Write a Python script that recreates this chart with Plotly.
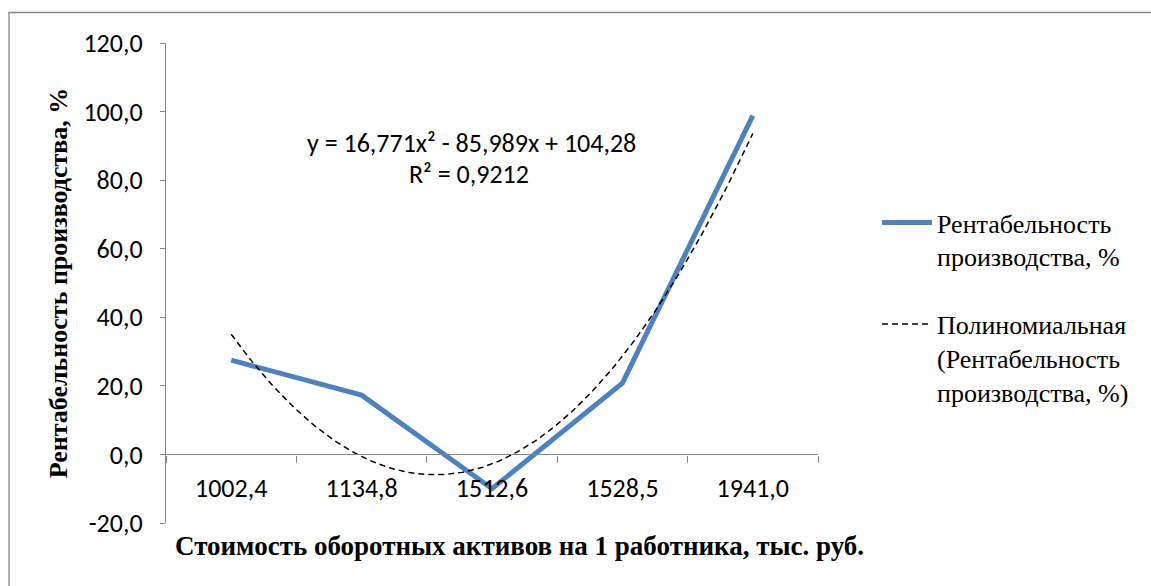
import numpy as np
import plotly.graph_objects as go

# ---- data ----
categories = ["1002,4", "1134,8", "1512,6", "1528,5", "1941,0"]
profitability = [27.5, 17.3, -10.0, 20.8, 98.8]
trend_coeffs = [16.771, -85.989, 104.28]   # from the chart's trendline equation
y_ticks = [-20, 0, 20, 40, 60, 80, 100, 120]
y_tick_text = ["-20,0", "0,0", "20,0", "40,0", "60,0", "80,0", "100,0", "120,0"]

x_pos = list(range(1, len(categories) + 1))
x_fine = np.linspace(1, len(categories), 200)
y_fine = np.polyval(trend_coeffs, x_fine)

SANS = "Carlito, Lato, 'Open Sans', sans-serif"
SERIF = "'Liberation Serif', 'Times New Roman', serif"
GRAY = "#868686"

L, R, T, B = 166, 333, 43, 63
W, H = 1151, 586
PW, PH = W - L - R, H - T - B


def px_x(p):
    return (p - L) / PW


def px_y(p):
    return (H - B - p) / PH


fig = go.Figure()
fig.add_trace(go.Scatter(
    x=x_pos, y=profitability, mode="lines",
    line=dict(color="#4F81BD", width=5),
    name="Рентабельность<br>производства, %",
    legendgroup="a",
))
fig.add_trace(go.Scatter(
    x=x_fine, y=y_fine, mode="lines",
    line=dict(color="black", width=1.5, dash="6px,4px"),
    name="Полиномиальная<br>(Рентабельность<br>производства, %)",
    legendgroup="b",
))

fig.update_layout(
    width=W, height=H,
    margin=dict(l=L, r=R, t=T, b=B),
    paper_bgcolor="white", plot_bgcolor="white",
    showlegend=True,
    legend=dict(
        x=px_x(877), xanchor="left", y=px_y(199), yanchor="top",
        font=dict(family=SERIF, size=26, color="black"),
        valign="top", tracegroupgap=31, itemwidth=50,
        bgcolor="rgba(0,0,0,0)",
    ),
    xaxis=dict(
        range=[0.5, len(categories) + 0.5],
        tickmode="array", tickvals=x_pos, ticktext=categories,
        ticks="", showline=True, linecolor=GRAY, linewidth=1.3,
        showgrid=False, zeroline=False,
        anchor="free", position=20 / 140,
        tickfont=dict(family=SANS, size=26, color="black"),
        ticklabelstandoff=10,
        minor=dict(tickvals=[i + 0.5 for i in range(len(categories) + 1)],
                   ticks="outside", ticklen=7, tickcolor=GRAY, tickwidth=1.3,
                   showgrid=False),
    ),
    yaxis=dict(
        range=[-20, 120], domain=[0, 1],
        tickmode="array", tickvals=y_ticks, ticktext=y_tick_text,
        ticks="outside", ticklen=5, tickcolor=GRAY, tickwidth=1.3,
        showline=True, linecolor=GRAY, linewidth=1.3,
        showgrid=False, zeroline=False,
        tickfont=dict(family=SANS, size=26, color="black"),
        ticklabelstandoff=12,
        title=dict(text="<b>Рентабельность производства, %</b>",
                   font=dict(family=SERIF, size=26, color="black"),
                   standoff=8),
    ),
    annotations=[
        dict(text="y = 16,771x² - 85,989x + 104,28", xref="paper", yref="paper",
             x=px_x(471), y=px_y(143), xanchor="center", yanchor="middle",
             showarrow=False, font=dict(family=SANS, size=26, color="black")),
        dict(text="R² = 0,9212", xref="paper", yref="paper",
             x=px_x(469), y=px_y(174), xanchor="center", yanchor="middle",
             showarrow=False, font=dict(family=SANS, size=26, color="black")),
        dict(text="<b>Стоимость оборотных активов на 1 работника, тыс. руб.</b>",
             xref="paper", yref="paper",
             x=px_x(519), y=px_y(546), xanchor="center", yanchor="middle",
             showarrow=False, font=dict(family=SERIF, size=27, color="black")),
    ],
    shapes=[
        dict(type="rect", xref="paper", yref="paper",
             x0=px_x(9), x1=2.0, y0=-1.0, y1=px_y(12.5),
             line=dict(color=GRAY, width=1.3), fillcolor="rgba(0,0,0,0)", layer="below"),
    ],
)

fig.write_html("out.html",
               config={"displayModeBar": False},
               post_script="document.body.style.margin='0';document.body.style.overflow='hidden';")
